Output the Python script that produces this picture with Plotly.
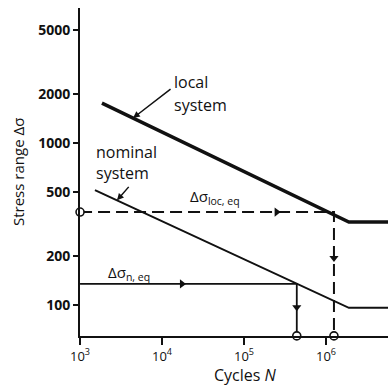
import numpy as np
import plotly.graph_objects as go

# ---- data ----
N_local = [1850, 1.9e6, 6e6]
S_local = [1766, 325, 325]
N_nominal = [1520, 1.9e6, 6e6]
S_nominal = [512, 96, 96]

S_loc_eq = 375
N_loc_eq = 1.25e6
S_n_eq = 135
N_n_eq = 4.4e5

y_tickvals = [100, 200, 500, 1000, 2000, 5000]
y_ticktext = ["100", "200", "500", "1000", "2000", "5000"]
x_tickvals = [1e3, 1e4, 1e5, 1e6]
x_ticktext = ["10<sup>3</sup>", "10<sup>4</sup>", "10<sup>5</sup>", "10<sup>6</sup>"]

# ---- layout geometry ----
W, H = 388, 387
ML, MR, MT, MB = 80, 0, 8, 51
N_MIN = 1e3
S_MIN = 10 ** 1.809
X_RANGE = [2.9995, 6.756]
Y_RANGE = [1.8085, 3.834]
PW, PH = W - ML - MR, H - MT - MB


def px(xp):
    return (xp - ML) / PW


def py(yp):
    return (H - MB - yp) / PH


def on_line(Ns, Ss, n):
    return 10 ** np.interp(np.log10(n), np.log10(Ns), np.log10(Ss))


FONT = "Open Sans, Liberation Sans, Arial, sans-serif"
BLACK = "#111111"

fig = go.Figure()

# local system
fig.add_trace(go.Scatter(x=N_local, y=S_local, mode="lines",
                         line=dict(color=BLACK, width=3.5)))
# nominal system
fig.add_trace(go.Scatter(x=N_nominal, y=S_nominal, mode="lines",
                         line=dict(color=BLACK, width=2)))
# local equivalent (dashed)
fig.add_trace(go.Scatter(x=[N_MIN, N_loc_eq, N_loc_eq], y=[S_loc_eq, S_loc_eq, S_MIN],
                         mode="lines", line=dict(color=BLACK, width=2, dash="12px,6px")))
# nominal equivalent (solid)
fig.add_trace(go.Scatter(x=[N_MIN, N_n_eq, N_n_eq], y=[S_n_eq, S_n_eq, S_MIN],
                         mode="lines", line=dict(color=BLACK, width=1.8)))

# arrowheads along the equivalent paths
fig.add_trace(go.Scatter(x=[2.5e5, 1.75e4], y=[S_loc_eq, S_n_eq], mode="markers",
                         marker=dict(symbol="triangle-right", size=8, color=BLACK)))
fig.add_trace(go.Scatter(x=[N_loc_eq, N_n_eq], y=[195, 97], mode="markers",
                         marker=dict(symbol="triangle-down", size=8, color=BLACK)))

# open circles
fig.add_trace(go.Scatter(x=[N_MIN, N_n_eq, N_loc_eq], y=[S_loc_eq, S_MIN, S_MIN],
                         mode="markers", cliponaxis=False,
                         marker=dict(symbol="circle", size=8, color="white",
                                     line=dict(color=BLACK, width=1.6))))

ann = []
lab_font = dict(family=FONT, size=16, color=BLACK)
for txt, x, y in [("local", 172, 69), ("system", 172, 92),
                  ("nominal", 94, 139), ("system", 94, 160)]:
    ann.append(dict(text=txt, x=px(x), y=py(y), xref="paper", yref="paper",
                    xanchor="left", yanchor="top", showarrow=False, font=lab_font))

# leader arrows
for Ns, Ss, n, axp, ayp in [(N_local, S_local, 4430, 39, -30),
                            (N_nominal, S_nominal, 2825, 13, -15)]:
    s = on_line(Ns, Ss, n)
    ann.append(dict(text="", x=np.log10(n), y=np.log10(s), xref="x", yref="y",
                    ax=axp, ay=ayp, showarrow=True, arrowhead=2, arrowsize=0.9,
                    arrowwidth=1.5, arrowcolor=BLACK))

ann.append(dict(text="Δσ<sub>loc, eq</sub>", x=px(188), y=py(197), xref="paper", yref="paper",
                xanchor="left", yanchor="middle", showarrow=False,
                font=dict(family=FONT, size=15, color=BLACK)))
ann.append(dict(text="Δσ<sub>n, eq</sub>", x=px(106), y=py(273), xref="paper", yref="paper",
                xanchor="left", yanchor="middle", showarrow=False,
                font=dict(family=FONT, size=15, color=BLACK)))

# axis titles
ann.append(dict(text="Stress range Δσ", x=px(18), y=py(172), xref="paper", yref="paper",
                xanchor="center", yanchor="middle", textangle=-90, showarrow=False,
                font=dict(family=FONT, size=15, color=BLACK)))
ann.append(dict(text="Cycles <i>N</i>", x=px(245), y=py(375), xref="paper", yref="paper",
                xanchor="center", yanchor="middle", showarrow=False,
                font=dict(family=FONT, size=16, color=BLACK)))

fig.update_layout(
    width=W, height=H,
    margin=dict(l=ML, r=MR, t=MT, b=MB, pad=0),
    showlegend=False,
    plot_bgcolor="white", paper_bgcolor="white",
    annotations=ann,
    xaxis=dict(type="log", range=X_RANGE, showline=True, linecolor=BLACK, linewidth=2,
               ticks="outside", ticklen=7, tickwidth=2, tickcolor=BLACK,
               tickvals=x_tickvals, ticktext=x_ticktext, showgrid=False, zeroline=False,
               tickfont=dict(family=FONT, size=13, color=BLACK)),
    yaxis=dict(type="log", range=Y_RANGE, showline=True, linecolor=BLACK, linewidth=2,
               ticks="outside", ticklen=5, tickwidth=2, tickcolor=BLACK,
               tickvals=y_tickvals, ticktext=y_ticktext, showgrid=False, zeroline=False,
               tickfont=dict(family=FONT, size=14, color=BLACK, weight="bold")),
)

fig.write_html("out.html", config={"displayModeBar": False},
               post_script="document.body.style.margin='0';document.body.style.padding='0';")
